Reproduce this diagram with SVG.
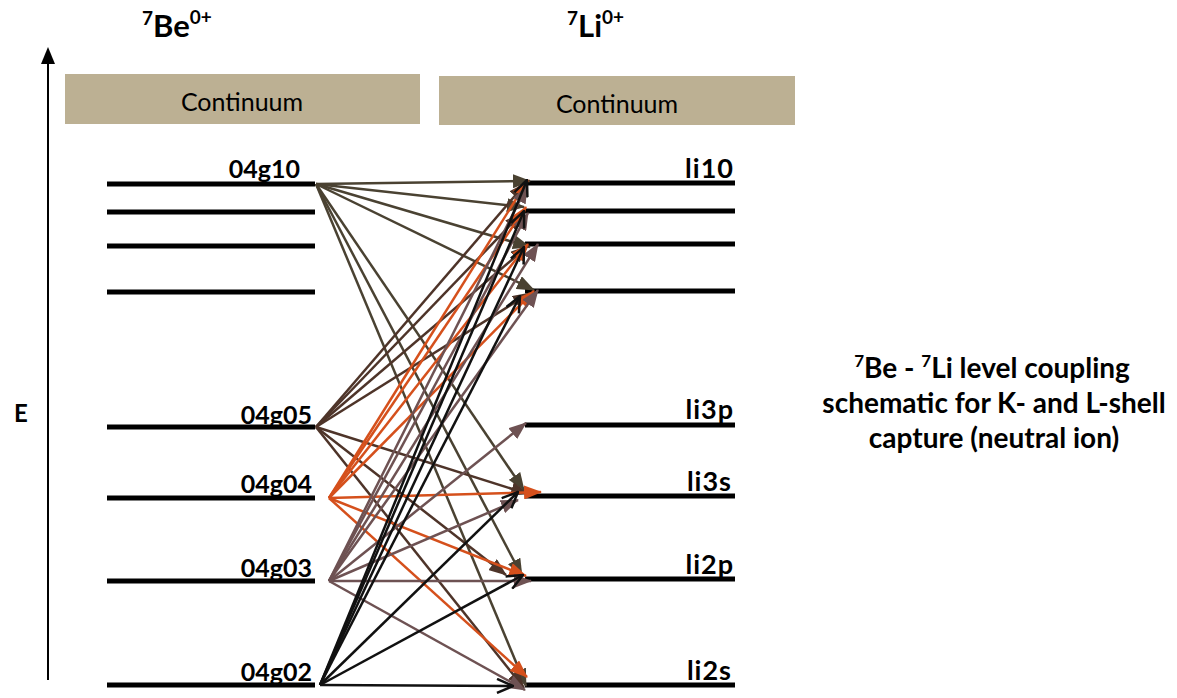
<svg xmlns="http://www.w3.org/2000/svg" width="1177" height="698" viewBox="0 0 1177 698">
<style>
.lvl{stroke:#000;stroke-width:5;fill:none}
.lab{font-family:Lato,"Liberation Sans",sans-serif;font-weight:bold;font-size:25px;fill:#000}
.lil{font-size:27px;letter-spacing:1px}
.cont{fill:#bcb093}
.ctext{font-family:Lato,"Liberation Sans",sans-serif;font-size:25px;fill:#000;text-anchor:middle}
.c10{stroke:#4a4232;stroke-width:2.5;fill:none;marker-end:url(#m10)}
.c05{stroke:#4e3429;stroke-width:2.5;fill:none;marker-end:url(#m05)}
.c04{stroke:#d5501c;stroke-width:2.5;fill:none;marker-end:url(#m04)}
.c03{stroke:#6e5253;stroke-width:2.5;fill:none;marker-end:url(#m03)}
.c02{stroke:#111;stroke-width:2.5;fill:none;marker-end:url(#m02)}
</style>
<defs>
<marker id="m10" viewBox="0 0 18 14" refX="17" refY="7" markerWidth="18" markerHeight="14" markerUnits="userSpaceOnUse" orient="auto"><path d="M0,0 L18,7 L0,14 z" fill="#4a4232"/></marker>
<marker id="m05" viewBox="0 0 18 14" refX="17" refY="7" markerWidth="18" markerHeight="14" markerUnits="userSpaceOnUse" orient="auto"><path d="M0,0 L18,7 L0,14 z" fill="#4e3429"/></marker>
<marker id="m04" viewBox="0 0 18 14" refX="17" refY="7" markerWidth="18" markerHeight="14" markerUnits="userSpaceOnUse" orient="auto"><path d="M0,0 L18,7 L0,14 z" fill="#d5501c"/></marker>
<marker id="m03" viewBox="0 0 18 14" refX="17" refY="7" markerWidth="18" markerHeight="14" markerUnits="userSpaceOnUse" orient="auto"><path d="M0,0 L18,7 L0,14 z" fill="#6e5253"/></marker>
<marker id="m02" viewBox="0 0 18 16" refX="17" refY="8" markerWidth="18" markerHeight="16" markerUnits="userSpaceOnUse" orient="auto"><path d="M1,1 L17,8 L1,15" fill="none" stroke="#111" stroke-width="2.5"/></marker>
</defs>

<g id="axis">
<line x1="48" y1="680" x2="48" y2="64" stroke="#000" stroke-width="2"/>
<path d="M41,64 L48,47 L55,64 z" fill="#000"/>
<text x="21" y="422" class="lab" style="font-size:24px" text-anchor="middle">E</text>
</g>

<g id="title-be">
<text x="142" y="37" class="lab"><tspan style="font-size:19px" dy="-12">7</tspan><tspan style="font-size:31px" dy="12">Be</tspan><tspan style="font-size:19px" dy="-13">0+</tspan></text>
</g>
<g id="title-li">
<text x="567" y="37" class="lab"><tspan style="font-size:19px" dy="-12">7</tspan><tspan style="font-size:31px" dy="12">Li</tspan><tspan style="font-size:19px" dy="-13">0+</tspan></text>
</g>

<g id="continuum-be">
<rect class="cont" x="65" y="74" width="355" height="50"/>
<text class="ctext" x="242" y="111">Continuum</text>
</g>
<g id="continuum-li">
<rect class="cont" x="439" y="76" width="356" height="49"/>
<text class="ctext" x="617" y="113">Continuum</text>
</g>

<g id="be-levels">
<g id="lv-04g10"><line class="lvl" x1="107" y1="184" x2="315" y2="184"/><text class="lab" x="300" y="178" text-anchor="end">04g10</text></g>
<g id="lv-be-212"><line class="lvl" x1="107" y1="212" x2="315" y2="212"/></g>
<g id="lv-be-246"><line class="lvl" x1="107" y1="246" x2="315" y2="246"/></g>
<g id="lv-be-292"><line class="lvl" x1="107" y1="292" x2="315" y2="292"/></g>
<g id="lv-04g05"><line class="lvl" x1="107" y1="427" x2="315" y2="427"/><text class="lab" x="312" y="424" text-anchor="end">04g05</text></g>
<g id="lv-04g04"><line class="lvl" x1="107" y1="498" x2="315" y2="498"/><text class="lab" x="312" y="493" text-anchor="end">04g04</text></g>
<g id="lv-04g03"><line class="lvl" x1="107" y1="581" x2="315" y2="581"/><text class="lab" x="312" y="577" text-anchor="end">04g03</text></g>
<g id="lv-04g02"><line class="lvl" x1="107" y1="685" x2="315" y2="685"/><text class="lab" x="312" y="681" text-anchor="end">04g02</text></g>
</g>

<g id="li-levels">
<g id="lv-li10"><line class="lvl" x1="525" y1="183" x2="735" y2="183"/><text class="lab lil" x="734" y="178" text-anchor="end">li10</text></g>
<g id="lv-li-211"><line class="lvl" x1="525" y1="211" x2="735" y2="211"/></g>
<g id="lv-li-244"><line class="lvl" x1="525" y1="244" x2="735" y2="244"/></g>
<g id="lv-li-291"><line class="lvl" x1="525" y1="291" x2="735" y2="291"/></g>
<g id="lv-li3p"><line class="lvl" x1="525" y1="425" x2="735" y2="425"/><text class="lab lil" x="734" y="419" text-anchor="end">li3p</text></g>
<g id="lv-li3s"><line class="lvl" x1="525" y1="496" x2="735" y2="496"/><text class="lab lil" x="732" y="491" text-anchor="end">li3s</text></g>
<g id="lv-li2p"><line class="lvl" x1="525" y1="579" x2="735" y2="579"/><text class="lab lil" x="734" y="574" text-anchor="end">li2p</text></g>
<g id="lv-li2s"><line class="lvl" x1="525" y1="685" x2="735" y2="685"/><text class="lab lil" x="732" y="680" text-anchor="end">li2s</text></g>
</g>

<g id="connectors">
<!-- 04g10 -->
<line class="c10" x1="316" y1="184" x2="530" y2="181"/>
<line class="c10" x1="316" y1="184" x2="524" y2="207"/>
<line class="c10" x1="316" y1="184" x2="530" y2="247"/>
<line class="c10" x1="316" y1="184" x2="534" y2="290"/>
<line class="c10" x1="316" y1="184" x2="524" y2="490"/>
<line class="c10" x1="316" y1="184" x2="522" y2="576"/>
<line class="c10" x1="316" y1="184" x2="526" y2="686"/>
<!-- 04g05 -->
<line class="c05" x1="316" y1="427" x2="526" y2="183"/>
<line class="c05" x1="316" y1="427" x2="522" y2="213"/>
<line class="c05" x1="316" y1="427" x2="528" y2="246"/>
<line class="c05" x1="316" y1="427" x2="530" y2="293"/>
<line class="c05" x1="316" y1="427" x2="528" y2="494"/>
<line class="c05" x1="316" y1="427" x2="506" y2="575"/>
<line class="c05" x1="316" y1="427" x2="524" y2="688"/>
<!-- 04g04 -->
<line class="c04" x1="329" y1="498" x2="528" y2="180"/>
<line class="c04" x1="329" y1="498" x2="526" y2="207"/>
<line class="c04" x1="329" y1="498" x2="528" y2="244"/>
<line class="c04" x1="329" y1="498" x2="534" y2="291"/>
<line class="c04" x1="329" y1="498" x2="541" y2="492"/>
<line class="c04" x1="329" y1="498" x2="526" y2="576"/>
<line class="c04" x1="329" y1="498" x2="527" y2="677"/>
<!-- 04g03 -->
<line class="c03" x1="329" y1="581" x2="527" y2="186"/>
<line class="c03" x1="329" y1="581" x2="528" y2="213"/>
<line class="c03" x1="329" y1="581" x2="538" y2="244"/>
<line class="c03" x1="329" y1="581" x2="538" y2="290"/>
<line class="c03" x1="329" y1="581" x2="526" y2="423"/>
<line class="c03" x1="329" y1="581" x2="518" y2="500"/>
<line class="c03" x1="329" y1="581" x2="531" y2="581"/>
<line class="c03" x1="329" y1="581" x2="525" y2="690"/>
<!-- 04g02 -->
<line class="c02" x1="320" y1="685" x2="527" y2="180"/>
<line class="c02" x1="320" y1="685" x2="524" y2="211"/>
<line class="c02" x1="320" y1="685" x2="524" y2="247"/>
<line class="c02" x1="320" y1="685" x2="520" y2="296"/>
<line class="c02" x1="320" y1="685" x2="518" y2="492"/>
<line class="c02" x1="320" y1="685" x2="523" y2="575"/>
<line class="c02" x1="320" y1="685" x2="513" y2="686"/>
</g>

<g id="caption">
<text class="lab" text-anchor="middle" style="font-size:28px"><tspan x="992" y="378"><tspan style="font-size:17px" dy="-11">7</tspan><tspan dy="11">Be - </tspan><tspan style="font-size:17px" dy="-11">7</tspan><tspan dy="11">Li level coupling</tspan></tspan><tspan x="994" y="413">schematic for K- and L-shell</tspan><tspan x="994" y="448">capture (neutral ion)</tspan></text>
</g>
</svg>
